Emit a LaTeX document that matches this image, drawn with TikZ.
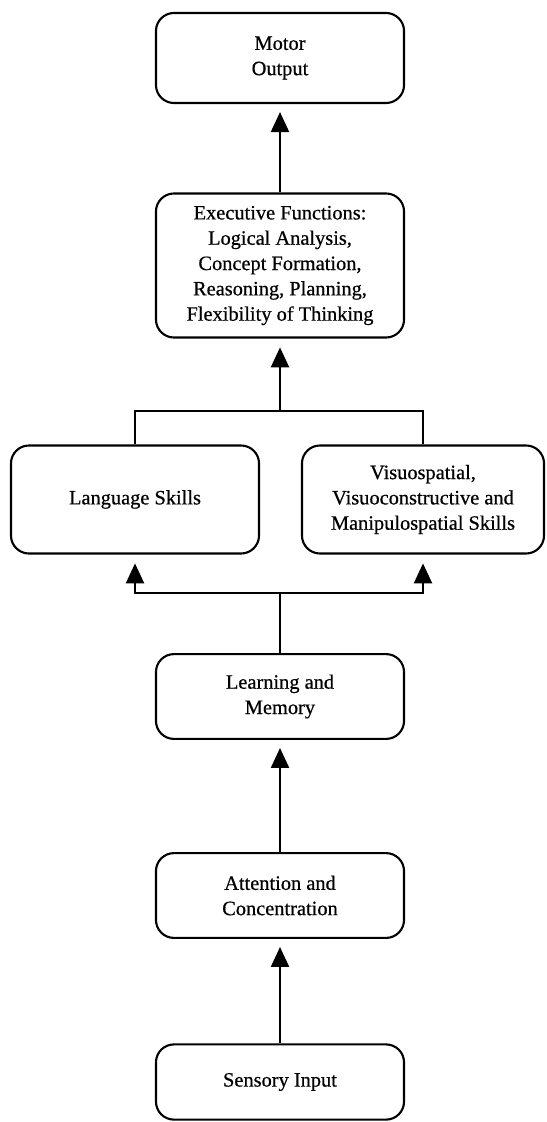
\documentclass[tikz,border=0pt]{standalone}
\usepackage{fontspec}
\setmainfont{Liberation Serif}[FakeBold=0.6]
\usetikzlibrary{arrows.meta}

\begin{document}
\begin{tikzpicture}[x=0.025cm, y=-0.025cm, >={Triangle[length=0.5cm, width=0.45cm]},
  box/.style={draw, line width=1.5pt, rounded corners=0.45cm, align=center, inner sep=0pt,
    minimum width=6.2cm, font=\fontsize{14.5}{18}\selectfont},
  link/.style={line width=1.6pt}]

\useasboundingbox (0,0) rectangle (546,1122);

% --- Boxes ---
\node[box, minimum height=2.25cm] (motor) at (280,58) {Motor\\Output};
\node[box, minimum height=3.6cm] (exec) at (280,265.5)
  {Executive Functions:\\Logical Analysis,\\Concept Formation,\\Reasoning, Planning,\\Flexibility of Thinking};
\node[box, minimum height=2.7cm] (lang) at (135,499.5) {Language Skills};
\node[box, minimum height=2.7cm, minimum width=6.05cm] (visuo) at (423,499.5)
  {Visuospatial,\\Visuoconstructive and\\Manipulospatial Skills};
\node[box, minimum height=2.12cm] (learn) at (280,696.5) {Learning and\\Memory};
\node[box, minimum height=2.12cm] (attn) at (280,895.5) {Attention and\\Concentration};
\node[box, minimum height=1.88cm] (sens) at (280,1082) {Sensory Input};

% --- Branch points ---
\coordinate (top) at (280,411);
\coordinate (fork) at (280,593);

% --- Connectors ---
\draw[link, ->, shorten >=0.2cm] (exec) -- (motor);
\draw[link] (lang.north) |- (top) -| (visuo.north);
\draw[link, ->, shorten >=0.22cm] (top) -- (exec.south);
\draw[link] (learn.north) -- (fork);
\draw[link, ->, shorten >=0.22cm] (fork) -| (lang.south);
\draw[link, ->, shorten >=0.22cm] (fork) -| (visuo.south);
\draw[link, ->, shorten >=0.2cm] (attn) -- (learn);
\draw[link, ->, shorten >=0.2cm] (sens) -- (attn);

\end{tikzpicture}
\end{document}
